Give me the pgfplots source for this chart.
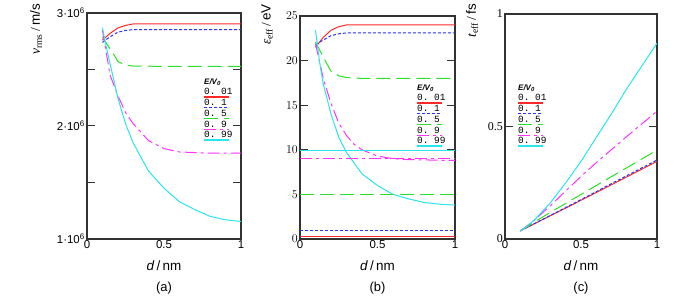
\documentclass[border=0pt]{standalone}
\usepackage{fontspec}
\setmainfont{Liberation Serif}
\setsansfont{Liberation Sans}
\setmonofont{Liberation Mono}
\usepackage{pgfplots}
\pgfplotsset{compat=1.18}
\definecolor{cR}{RGB}{255,40,40}
\definecolor{cB}{RGB}{40,50,255}
\definecolor{cG}{RGB}{40,225,40}
\definecolor{cM}{RGB}{255,50,255}
\definecolor{cC}{RGB}{40,230,235}
\definecolor{frame}{RGB}{50,50,50}
\tikzset{
 sR/.style={draw=cR, line width=1bp, solid},
 sB/.style={draw=cB, line width=1bp, dash pattern=on 3bp off 2bp},
 sG/.style={draw=cG, line width=1bp, dash pattern=on 14bp off 6bp},
 sM/.style={draw=cM, line width=1bp, dash pattern=on 12bp off 4bp on 3bp off 4bp},
 sC/.style={draw=cC, line width=1bp, solid},
}
\pgfplotsset{
 myax/.style={scale only axis, anchor=south west,
  axis line style={line width=1.2bp, frame},
  xmin=0, xmax=1, xtick={0,0.5,1}, xticklabels={0,0.5,1},
  x tick style={draw=none},
  y tick style={line width=1bp, frame},
  tick align=inside, major tick length=8bp,
  scaled ticks=false,
  x tick label style={font=\sffamily\fontsize{11.5}{12}\selectfont, inner sep=1bp},
  y tick label style={font=\fontsize{12}{13}\selectfont, inner sep=2bp},
  clip=true},
}
\newcommand{\legentry}[4]{% x, y of line, style, text
 \draw[#3, line width=1.4bp] (#1bp,#2bp) -- ++(25bp,0);
 \node[anchor=base west, inner sep=0, font=\ttfamily\fontsize{9.5}{10}\selectfont] at (#1bp,#2bp+2.2bp) {#4};
}
\newcommand{\mylegend}[2]{%
 \node[anchor=west, inner sep=0, font=\sffamily\bfseries\itshape\fontsize{8}{9}\selectfont] at (#1bp,#2bp) {E/V\textsubscript{0}};
 \pgfmathsetmacro\ya{#2-15}\pgfmathsetmacro\yb{#2-25.75}\pgfmathsetmacro\yc{#2-36.5}%
 \pgfmathsetmacro\yd{#2-47.25}\pgfmathsetmacro\ye{#2-58}%
 \legentry{#1}{\ya}{sR}{0. 01}
 \legentry{#1}{\yb}{sB}{0. 1}
 \legentry{#1}{\yc}{sG}{0. 5}
 \legentry{#1}{\yd}{sM}{0. 9}
 \legentry{#1}{\ye}{sC}{0. 99}
}
\begin{document}
\begin{tikzpicture}
\useasboundingbox (0,0) rectangle (692bp,305bp);
% ---------------- (a)
\begin{axis}[myax, at={(87bp,66bp)}, width=154bp, height=226bp,
  ymin=1e6, ymax=3e6, ytick={1e6,1.5e6,2e6,2.5e6,3e6},
  yticklabels={1·10\textsuperscript{6},,2·10\textsuperscript{6},,3·10\textsuperscript{6}},
  y tick label style={font=\sffamily\fontsize{11.5}{12}\selectfont}]
\addplot[sR] coordinates {(0.1,2.76e6) (0.15,2.82e6) (0.2,2.867e6) (0.25,2.89e6) (0.3,2.903e6) (0.5,2.903e6) (1,2.903e6)};
\addplot[sB] coordinates {(0.1,2.74e6) (0.15,2.79e6) (0.2,2.83e6) (0.25,2.845e6) (0.3,2.853e6) (0.5,2.853e6) (1,2.853e6)};
\addplot[sG] coordinates {(0.1,2.79e6) (0.15,2.68e6) (0.18,2.62e6) (0.2,2.57e6) (0.25,2.54e6) (0.3,2.53e6) (0.5,2.528e6) (1,2.528e6)};
\addplot[sM] coordinates {(0.1,2.85e6) (0.15,2.45e6) (0.2,2.27e6) (0.25,2.12e6) (0.3,2.02e6) (0.4,1.87e6) (0.5,1.80e6) (0.6,1.77e6) (0.8,1.76e6) (1,1.76e6)};
\addplot[sC] coordinates {(0.1,2.87e6) (0.125,2.70e6) (0.15,2.55e6) (0.2,2.25e6) (0.25,2.02e6) (0.3,1.85e6) (0.4,1.60e6) (0.5,1.45e6) (0.6,1.33e6) (0.7,1.26e6) (0.8,1.20e6) (0.9,1.17e6) (1,1.155e6)};
\end{axis}
% ---------------- (b)
\begin{axis}[myax, at={(300bp,66bp)}, width=155bp, height=223bp,
  ymin=0, ymax=25, ytick={0,5,10,15,20,25}]
\addplot[sR] coordinates {(0.1,21.5) (0.15,22.6) (0.2,23.4) (0.25,23.8) (0.3,24.0) (0.5,24.0) (1,24.0)};
\addplot[sB] coordinates {(0.1,21.8) (0.15,22.3) (0.2,22.8) (0.25,23.0) (0.3,23.1) (0.5,23.1) (1,23.1)};
\addplot[sG] coordinates {(0.1,22.1) (0.15,20.4) (0.2,18.8) (0.25,18.3) (0.3,18.1) (0.4,18.0) (1,18.0)};
\addplot[sM] coordinates {(0.1,21.9) (0.15,18.0) (0.2,15.2) (0.25,13.0) (0.3,11.6) (0.35,10.6) (0.4,10.0) (0.5,9.3) (0.6,9.0) (0.7,8.9) (1,8.8)};
\addplot[sC] coordinates {(0.1,23.4) (0.125,20.0) (0.15,17.4) (0.2,14.0) (0.25,11.4) (0.3,9.7) (0.4,7.3) (0.5,6.0) (0.6,5.0) (0.7,4.5) (0.8,4.1) (0.9,3.9) (1,3.8)};
\addplot[sR, line width=1.4bp] coordinates {(0,0.25) (1,0.25)};
\addplot[sB] coordinates {(0,1.0) (1,1.0)};
\addplot[sG] coordinates {(0,5.0) (1,5.0)};
\addplot[sM] coordinates {(0,9.0) (1,9.0)};
\addplot[sC, line width=1.3bp] coordinates {(0,9.9) (1,9.9)};
\end{axis}
% ---------------- (c)
\begin{axis}[myax, at={(505bp,66bp)}, width=152bp, height=225bp,
  ymin=0, ymax=1, ytick={0,0.5,1}, yticklabels={0,0.5,1}]
\addplot[sR] coordinates {(0.1,0.036) (0.2,0.070) (0.3,0.104) (0.5,0.172) (0.7,0.241) (1,0.345)};
\addplot[sB] coordinates {(0.1,0.037) (0.2,0.071) (0.3,0.105) (0.5,0.175) (0.7,0.246) (1,0.351)};
\addplot[sG] coordinates {(0.1,0.036) (0.15,0.056) (0.2,0.078) (0.3,0.119) (0.5,0.198) (0.7,0.277) (1,0.395)};
\addplot[sM] coordinates {(0.1,0.035) (0.15,0.061) (0.2,0.088) (0.3,0.149) (0.4,0.214) (0.5,0.278) (0.6,0.339) (0.8,0.455) (1,0.568)};
\addplot[sC] coordinates {(0.1,0.035) (0.15,0.059) (0.2,0.089) (0.3,0.162) (0.4,0.250) (0.5,0.345) (0.6,0.451) (0.7,0.556) (0.8,0.667) (0.9,0.769) (1,0.870)};
\end{axis}
% legends
\mylegend{204}{223}
\mylegend{417}{217}
\mylegend{518}{217}
% y labels
\node[rotate=90, anchor=east, inner sep=0, font=\fontsize{13.5}{14}\selectfont] at (36bp,301bp) {\textit{v}\textsubscript{rms}\,/\,\textsf{m/s}};
\node[rotate=90, anchor=east, inner sep=0, font=\fontsize{13.5}{14}\selectfont] at (267bp,301bp) {\textit{ε}\textsubscript{eff}\,/\,\textsf{eV}};
\node[rotate=90, anchor=east, inner sep=0, font=\fontsize{13.5}{14}\selectfont] at (472bp,301bp) {\textit{t}\textsubscript{eff}\,/\,\textsf{fs}};
% x labels and panel tags
\foreach \cx/\tag in {164/a, 377.5/b, 581/c} {
  \node[font=\sffamily\fontsize{13.5}{14}\selectfont] at (\cx bp,39bp) {\textit{d}\,/\,nm};
  \node[font=\sffamily\fontsize{13}{14}\selectfont] at (\cx bp,17bp) {(\tag)};
}
\end{tikzpicture}
\end{document}
